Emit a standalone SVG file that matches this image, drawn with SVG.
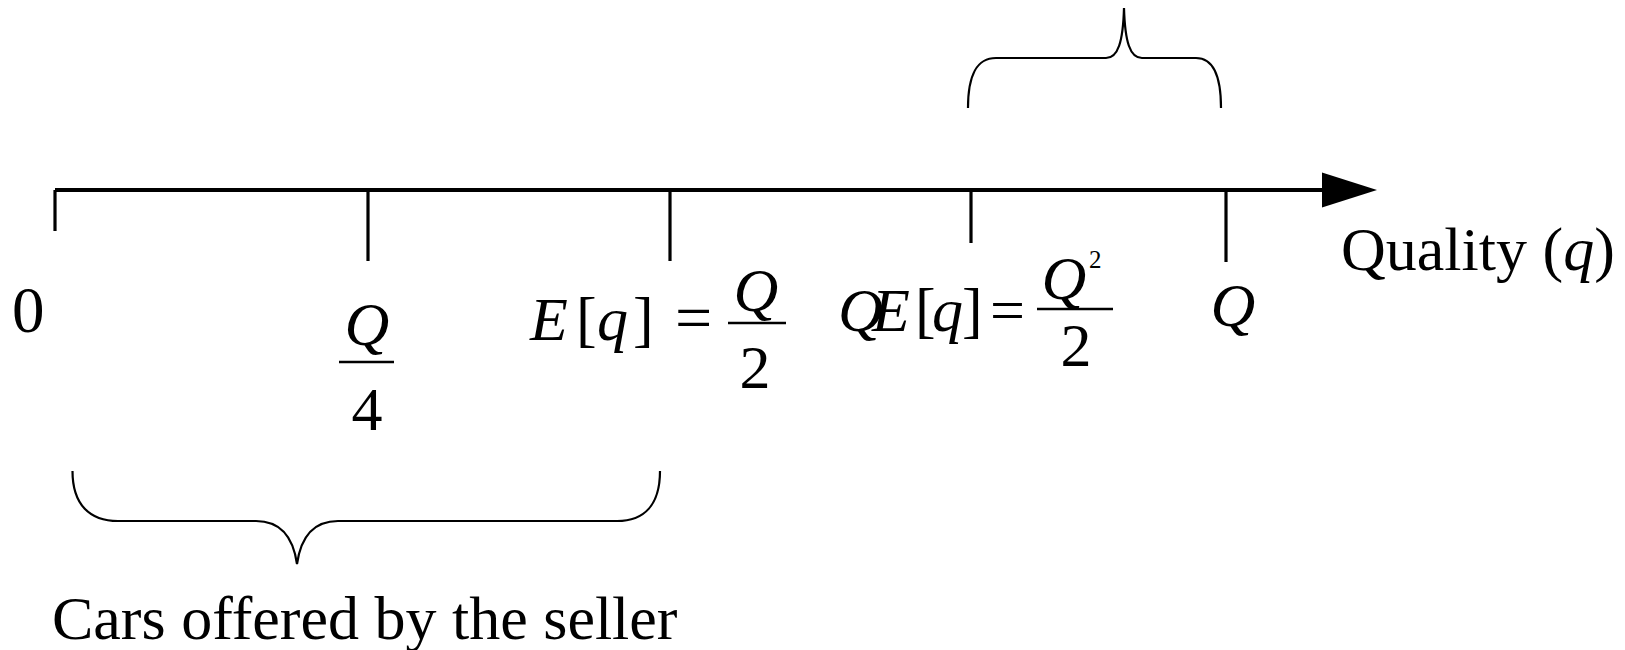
<svg xmlns="http://www.w3.org/2000/svg" width="1625" height="650" viewBox="0 0 1625 650">
<style>
.t{font-family:"Liberation Serif","Times New Roman",serif;font-size:62px;fill:#000}
.i{font-style:italic}
.ax{stroke:#000;stroke-width:4;fill:none}
.tk{stroke:#000;stroke-width:3.2;fill:none}
.br{stroke:#000;stroke-width:2.2;fill:none}
.fb{stroke:#000;stroke-width:2.6}
</style>
<rect width="1625" height="650" fill="#fff"/>
<g id="connectors">
  <line class="ax" x1="55" y1="190" x2="1325" y2="190"/>
  <polygon points="1322,172.5 1377,190 1322,207.5" fill="#000"/>
</g>
<g id="tick-0">
  <line class="tk" x1="55" y1="190" x2="55" y2="231"/>
  <text class="t" x="12" y="332" style="font-size:65px">0</text>
</g>
<g id="tick-q4">
  <line class="tk" x1="368" y1="190" x2="368" y2="261"/>
  <text class="t i" x="367" y="345" text-anchor="middle">Q</text>
  <line class="fb" x1="339" y1="362" x2="394" y2="362"/>
  <text class="t" x="367" y="430" text-anchor="middle">4</text>
</g>
<g id="tick-eq">
  <line class="tk" x1="670" y1="190" x2="670" y2="261"/>
  <text class="t" x="530" y="340"><tspan class="i">E</tspan><tspan x="576">[</tspan><tspan class="i" x="597">q</tspan><tspan x="633">]</tspan></text>
  <text class="t" x="675" y="340" style="font-size:66px">=</text>
  <line class="fb" x1="728" y1="323" x2="786" y2="323"/>
  <text class="t i" x="756" y="311" text-anchor="middle">Q</text>
  <text class="t" x="755" y="388" text-anchor="middle">2</text>
</g>
<g id="tick-qeq">
  <line class="tk" x1="971" y1="190" x2="971" y2="243"/>
  <text class="t" x="838" y="331"><tspan class="i">Q</tspan><tspan class="i" x="872">E</tspan><tspan x="915">[</tspan><tspan class="i" x="932">q</tspan><tspan x="962">]</tspan></text>
  <text class="t" x="990" y="331">=</text>
  <line class="fb" x1="1037" y1="309" x2="1113" y2="309"/>
  <text class="t i" x="1064" y="299" text-anchor="middle">Q</text>
  <text class="t" x="1089" y="268" style="font-size:25px">2</text>
  <text class="t" x="1076" y="366" text-anchor="middle">2</text>
</g>
<g id="tick-Q">
  <line class="tk" x1="1226" y1="190" x2="1226" y2="262"/>
  <text class="t i" x="1233" y="326" text-anchor="middle">Q</text>
</g>
<g id="axis-label">
  <text class="t" x="1341" y="270">Quality (<tspan class="i">q</tspan>)</text>
</g>
<g id="brace-top">
  <path class="br" d="M968,108 C968,76 976,58 996,58 L1106,58 C1118,58 1123,42 1124,8 C1125,42 1130,58 1142,58 L1196,58 C1214,58 1221,76 1221,108"/>
</g>
<g id="brace-bottom">
  <path class="br" d="M72.5,471 C72.5,505 90,521 118,521 L256,521 C280,521 293,536 297,564 C301,536 314,521 338,521 L617,521 C644,521 660,505 660,471"/>
  <text class="t" x="52" y="639">Cars offered by the seller</text>
</g>
</svg>
